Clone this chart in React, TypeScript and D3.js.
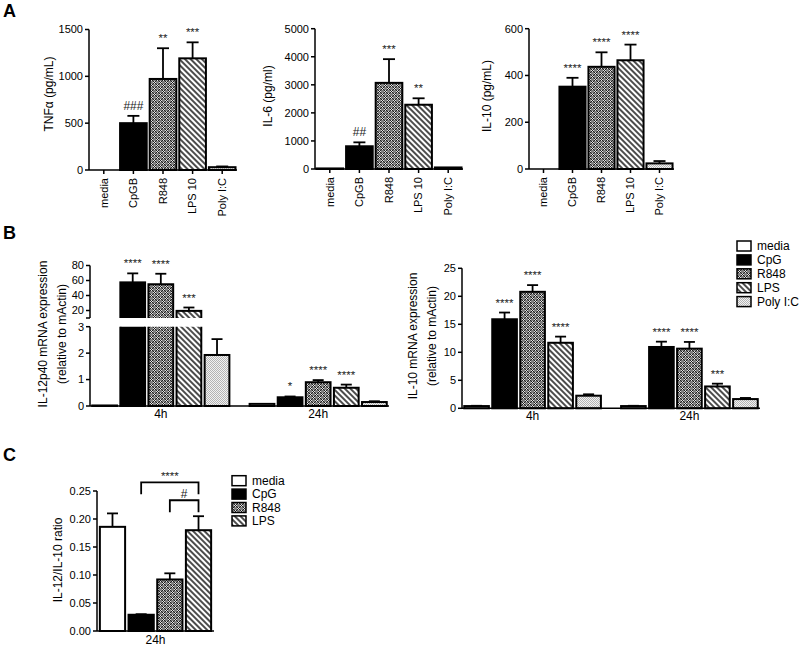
import React from "react";
import * as d3 from "d3";

const FONT = "'Liberation Sans', Arial, Helvetica, sans-serif";

// ---------- Panel A data ----------
const aCategories = ["media", "CpGB", "R848", "LPS 10", "Poly I:C"];
const tnfValues = [0, 500, 972, 1192, 30];
const tnfErrors = [0, 78, 328, 171, 8];
const tnfSig = ["", "###", "**", "***", ""];
const tnfTicks = [0, 500, 1000, 1500];

const il6Values = [20, 810, 3070, 2290, 55];
const il6Errors = [0, 140, 845, 230, 0];
const il6Sig = ["", "##", "***", "**", ""];
const il6Ticks = [0, 1000, 2000, 3000, 4000, 5000];

const il10Values = [0, 352, 437, 465, 24];
const il10Errors = [0, 38, 62, 67, 10];
const il10Sig = ["", "****", "****", "****", ""];
const il10Ticks = [0, 200, 400, 600];

// ---------- Panel B data ----------
const bGroups = ["4h", "24h"];
const bSeries = ["media", "CpG", "R848", "LPS", "Poly I:C"];

const il12p40Values4h = [0.02, 57.5, 55, 19.5, 1.93];
const il12p40Errors4h = [0, 12, 14, 4.5, 0.6];
const il12p40Sig4h = ["", "****", "****", "***", ""];
const il12p40Values24h = [0.08, 0.33, 0.9, 0.69, 0.15];
const il12p40Errors24h = [0, 0.03, 0.08, 0.12, 0.03];
const il12p40Sig24h = ["", "*", "****", "****", ""];
const il12LowerTicks = [0, 1, 2, 3];
const il12UpperTicks = [20, 40, 60, 80];

const il10mValues4h = [0.4, 15.9, 20.8, 11.7, 2.25];
const il10mErrors4h = [0.05, 1.2, 1.2, 1.1, 0.25];
const il10mSig4h = ["", "****", "****", "****", ""];
const il10mValues24h = [0.4, 10.95, 10.65, 3.9, 1.65];
const il10mErrors24h = [0.05, 0.95, 1.2, 0.5, 0.2];
const il10mSig24h = ["", "****", "****", "***", ""];
const il10mTicks = [0, 5, 10, 15, 20, 25];

// ---------- Panel C data ----------
const cSeries = ["media", "CpG", "R848", "LPS"];
const ratioValues = [0.186, 0.029, 0.092, 0.18];
const ratioErrors = [0.024, 0.001, 0.011, 0.025];
const ratioTicks = [0, 0.05, 0.1, 0.15, 0.2, 0.25];
const cBrackets = [
  { from: "CpG", to: "LPS", label: "****", level: 0.2655 },
  { from: "R848", to: "LPS", label: "#", level: 0.2335 },
];

const fills = ["#ffffff", "#000000", "url(#pR848)", "url(#pLPS)", "url(#pPoly)"];

const AX = 1.5;
const BAR_SW = 2;

function YAxis({ x, scale, ticks, fmt, extraTicks = [] as number[] }: any) {
  const [r0, r1] = scale.range();
  return (
    <g>
      <line x1={x} x2={x} y1={r0} y2={r1} stroke="#000" strokeWidth={AX} />
      {ticks.map((t: number) => (
        <g key={t}>
          <line x1={x - 4} x2={x} y1={scale(t)} y2={scale(t)} stroke="#000" strokeWidth={AX} />
          <text x={x - 6} y={scale(t)} dy="0.35em" textAnchor="end" fontSize={11}>
            {fmt ? fmt(t) : t}
          </text>
        </g>
      ))}
      {extraTicks.map((yy: number, i: number) => (
        <line key={"e" + i} x1={x - 4} x2={x} y1={yy} y2={yy} stroke="#000" strokeWidth={AX} />
      ))}
    </g>
  );
}

function ErrBar({ cx, y0, y1, cap = 6 }: any) {
  return (
    <g stroke="#000" strokeWidth={1.8}>
      <line x1={cx} x2={cx} y1={y0} y2={y1} />
      <line x1={cx - cap} x2={cx + cap} y1={y1} y2={y1} />
    </g>
  );
}

function Sig({ cx, y, text }: any) {
  if (!text) return null;
  const hash = text.includes("#");
  return (
    <text x={cx} y={y - 6} textAnchor="middle" fontSize={hash ? 12 : 11.5} fill="#222">
      {text}
    </text>
  );
}

function VLabel({ x, y, lines, size = 12 }: any) {
  return (
    <g>
      {lines.map((l: string, i: number) => (
        <text
          key={i}
          transform={`translate(${x + i * 18.5},${y}) rotate(-90)`}
          dy="0.35em"
          textAnchor="middle"
          fontSize={size}
        >
          {l}
        </text>
      ))}
    </g>
  );
}

function PanelA({ x0, x1, yTop, yBase, max, ticks, values, errors, sig, label, labelX, labelY }: any) {
  const xs = d3.scaleBand().domain(aCategories).range([x0, x1]).paddingInner(0.1).paddingOuter(0.05);
  const ys = d3.scaleLinear().domain([0, max]).range([yBase, yTop]);
  const bw = xs.bandwidth();
  return (
    <g>
      {aCategories.map((c, i) => {
        const v = values[i];
        const e = errors[i];
        const cx = (xs(c) as number) + bw / 2;
        return (
          <g key={c}>
            {v > 0 && (
              <rect x={xs(c)} y={ys(v)} width={bw} height={yBase - ys(v)} fill={fills[i]} stroke="#000" strokeWidth={BAR_SW} />
            )}
            {e > 0 && <ErrBar cx={cx} y0={ys(v)} y1={ys(v + e)} />}
            <Sig cx={cx} y={ys(v + e)} text={sig[i]} />
          </g>
        );
      })}
      <YAxis x={x0} scale={ys} ticks={ticks} />
      <line x1={x0} x2={x1} y1={yBase} y2={yBase} stroke="#000" strokeWidth={AX} />
      {aCategories.map((c) => {
        const cx = (xs(c) as number) + bw / 2;
        return (
          <g key={"t" + c}>
            <line x1={cx} x2={cx} y1={yBase} y2={yBase + 4} stroke="#000" strokeWidth={AX} />
            <text transform={`translate(${cx},${yBase + 8}) rotate(-90)`} dy="0.35em" textAnchor="end" fontSize={11}>
              {c}
            </text>
          </g>
        );
      })}
      <VLabel x={labelX} y={labelY} lines={[label]} />
    </g>
  );
}

function PanelB({ x0, x1, yBase, segments, groupData, labelLines, labelX, labelY, clipIds }: any) {
  const gx = d3.scaleBand().domain(bGroups).range([x0, x1]).paddingInner(0.1).paddingOuter(0);
  const sx = d3.scaleBand().domain(bSeries).range([0, gx.bandwidth()]).paddingInner(0.12).paddingOuter(0.08);
  const bw = sx.bandwidth();
  const lower = d3.scaleLinear().domain(segments[0].domain).range(segments[0].range);
  const upper = segments[1] ? d3.scaleLinear().domain(segments[1].domain).range(segments[1].range) : null;
  const lowerMax = segments[0].domain[1];
  const lowerTop = segments[0].range[1];
  const upperBottom = segments[1] ? segments[1].range[0] : 0;
  return (
    <g>
      {bGroups.map((g, gi) => {
        const { values, errors, sig } = groupData[gi];
        return bSeries.map((s, i) => {
          const v = values[i];
          const e = errors[i];
          const bx = (gx(g) as number) + (sx(s) as number);
          const cx = bx + bw / 2;
          if (upper && v > lowerMax) {
            return (
              <g key={g + s}>
                <rect x={bx} y={lowerTop - 4} width={bw} height={yBase - lowerTop + 4} fill={fills[i]} stroke="#000" strokeWidth={BAR_SW} clipPath={`url(#${clipIds[0]})`} />
                <rect x={bx} y={upper(v)} width={bw} height={upperBottom + 4 - upper(v)} fill={fills[i]} stroke="#000" strokeWidth={BAR_SW} clipPath={`url(#${clipIds[1]})`} />
                {e > 0 && <ErrBar cx={cx} y0={upper(v)} y1={upper(v + e)} cap={5.5} />}
                <Sig cx={cx} y={upper(v + e)} text={sig[i]} />
              </g>
            );
          }
          return (
            <g key={g + s}>
              <rect x={bx} y={lower(v)} width={bw} height={yBase - lower(v)} fill={fills[i]} stroke="#000" strokeWidth={BAR_SW} />
              {e > 0 && <ErrBar cx={cx} y0={lower(v)} y1={lower(v + e)} cap={5.5} />}
              <Sig cx={cx} y={lower(v + e)} text={sig[i]} />
            </g>
          );
        });
      })}
      <YAxis x={x0} scale={lower} ticks={segments[0].ticks} />
      {upper && <YAxis x={x0} scale={upper} ticks={segments[1].ticks} extraTicks={[upperBottom]} />}
      <line x1={x0} x2={x1} y1={yBase} y2={yBase} stroke="#000" strokeWidth={AX} />
      {bGroups.map((g) => (
        <text key={g} x={(gx(g) as number) + gx.bandwidth() / 2} y={yBase + 12} textAnchor="middle" fontSize={12}>
          {g}
        </text>
      ))}
      <VLabel x={labelX} y={labelY} lines={labelLines} />
    </g>
  );
}

function PanelC() {
  const x0 = 97, x1 = 214, yBase = 631, yTop = 491;
  const xs = d3.scaleBand().domain(cSeries).range([x0, x1]).paddingInner(0.12).paddingOuter(0.1);
  const ys = d3.scaleLinear().domain([0, 0.25]).range([yBase, yTop]);
  const bw = xs.bandwidth();
  const cxOf = (s: string) => (xs(s) as number) + bw / 2;
  return (
    <g>
      {cSeries.map((s, i) => {
        const v = ratioValues[i];
        const e = ratioErrors[i];
        const cx = cxOf(s);
        return (
          <g key={s}>
            <rect x={xs(s)} y={ys(v)} width={bw} height={yBase - ys(v)} fill={fills[i]} stroke="#000" strokeWidth={BAR_SW} />
            <ErrBar cx={cx} y0={ys(v)} y1={ys(v + e)} cap={5.5} />
          </g>
        );
      })}
      {cBrackets.map((b, i) => {
        const y = ys(b.level);
        const xa = cxOf(b.from);
        const xb = cxOf(b.to);
        return (
          <g key={i}>
            <path d={`M${xa},${y + 12}V${y}H${xb}V${y + 12}`} fill="none" stroke="#000" strokeWidth={1.8} />
            <text x={(xa + xb) / 2} y={y - 2} textAnchor="middle" fontSize={b.label === "#" ? 12 : 11.5} fill="#222">
              {b.label}
            </text>
          </g>
        );
      })}
      <YAxis x={x0} scale={ys} ticks={ratioTicks} fmt={d3.format(".2f")} />
      <line x1={x0} x2={x1} y1={yBase} y2={yBase} stroke="#000" strokeWidth={AX} />
      <text x={(x0 + x1) / 2} y={yBase + 13} textAnchor="middle" fontSize={12}>24h</text>
      <VLabel x={58} y={560} lines={["IL-12/IL-10 ratio"]} />
    </g>
  );
}

function Legend({ x, y, items, gap }: any) {
  return (
    <g>
      {items.map((it: string, i: number) => (
        <g key={it}>
          <rect x={x} y={y + i * gap - 5} width={14} height={10} fill={fills[i]} stroke="#000" strokeWidth={1.5} />
          <text x={x + 20} y={y + i * gap} dy="0.35em" fontSize={12}>
            {it}
          </text>
        </g>
      ))}
    </g>
  );
}

export default function App() {
  return (
    <svg
      width={800}
      height={646}
      style={{ position: "absolute", left: 0, top: 0, background: "#fff" }}
      fontFamily={FONT}
    >
      <defs>
        <pattern id="pR848" patternUnits="userSpaceOnUse" width={6} height={6}>
          <rect width={6} height={6} fill="#7e7e7e" />
          {[0, 3].map((o) =>
            [0, 1, 2].map((r) =>
              [0, 1, 2].map((c) => (
                <rect key={`${o}${r}${c}`} x={o + c} y={o + r} width={1} height={1} fill={(r + c) % 2 === 0 ? "#1e1e1e" : "#e2e2e2"} />
              ))
            )
          )}
        </pattern>
        <pattern id="pLPS" patternUnits="userSpaceOnUse" width={4} height={4} patternTransform="rotate(-45)">
          <rect width={4} height={4} fill="#fff" />
          <line x1={1} x2={1} y1={0} y2={4} stroke="#000" strokeWidth={1.4} />
        </pattern>
        <pattern id="pPoly" patternUnits="userSpaceOnUse" width={2} height={2}>
          <rect width={2} height={2} fill="#f2f2f2" />
          <rect x={0} y={0} width={1} height={1} fill="#b4b4b4" />
          <rect x={1} y={1} width={1} height={1} fill="#b4b4b4" />
        </pattern>
        <clipPath id="clipLowL">
          <rect x={0} y={326.7} width={800} height={100} />
        </clipPath>
        <clipPath id="clipUpL">
          <rect x={0} y={0} width={800} height={318} />
        </clipPath>
      </defs>

      <text x={3} y={17} fontSize={18} fontWeight="bold">A</text>
      <text x={3} y={239} fontSize={18} fontWeight="bold">B</text>
      <text x={3} y={461} fontSize={18} fontWeight="bold">C</text>

      <PanelA x0={89} x1={237} yTop={29.5} yBase={170} max={1500} ticks={tnfTicks}
        values={tnfValues} errors={tnfErrors} sig={tnfSig} label="TNFα (pg/mL)" labelX={49} labelY={94} />
      <PanelA x0={315} x1={463} yTop={28.7} yBase={169} max={5000} ticks={il6Ticks}
        values={il6Values} errors={il6Errors} sig={il6Sig} label="IL-6 (pg/ml)" labelX={268} labelY={96} />
      <PanelA x0={529} x1={674} yTop={28.7} yBase={169} max={600} ticks={il10Ticks}
        values={il10Values} errors={il10Errors} sig={il10Sig} label="IL-10 (pg/mL)" labelX={487} labelY={96} />

      <PanelB
        x0={90} x1={389} yBase={406}
        segments={[
          { domain: [0, 3], range: [406, 326.7], ticks: il12LowerTicks },
          { domain: [10, 80], range: [318, 265.5], ticks: il12UpperTicks },
        ]}
        groupData={[
          { values: il12p40Values4h, errors: il12p40Errors4h, sig: il12p40Sig4h },
          { values: il12p40Values24h, errors: il12p40Errors24h, sig: il12p40Sig24h },
        ]}
        labelLines={["IL-12p40 mRNA expression", "(relative to mActin)"]}
        labelX={43} labelY={334}
        clipIds={["clipLowL", "clipUpL"]}
      />
      <PanelB
        x0={462} x1={760} yBase={408.3}
        segments={[{ domain: [0, 25], range: [408.3, 268.3], ticks: il10mTicks }]}
        groupData={[
          { values: il10mValues4h, errors: il10mErrors4h, sig: il10mSig4h },
          { values: il10mValues24h, errors: il10mErrors24h, sig: il10mSig24h },
        ]}
        labelLines={["IL-10 mRNA expression", "(relative to mActin)"]}
        labelX={413} labelY={336}
        clipIds={[]}
      />
      <Legend x={737} y={246} items={bSeries} gap={13.9} />

      <PanelC />
      <Legend x={232} y={480.7} items={cSeries} gap={13.4} />
    </svg>
  );
}
